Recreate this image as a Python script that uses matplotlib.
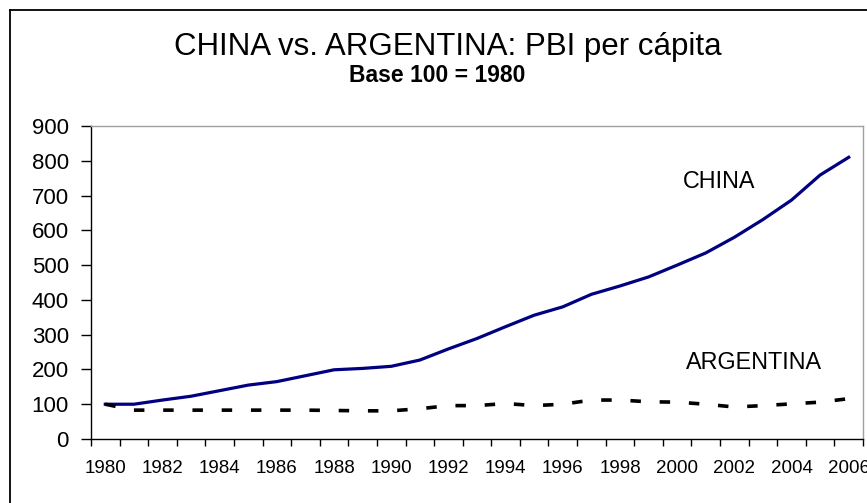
import matplotlib
matplotlib.use("Agg")
import matplotlib.pyplot as plt
import numpy as np
from matplotlib.lines import Line2D

plt.rcParams['font.family'] = ['Liberation Sans', 'DejaVu Sans']

years = list(range(1980, 2007))
china = [100, 100, 112, 123, 139, 155, 165, 182, 199, 203, 209, 227, 259,
         289, 323, 356, 380, 416, 440, 466, 500, 535, 580, 631, 687, 759, 810]
argentina = [100, 83, 83, 83, 83, 83, 83, 83, 82, 81, 81, 87, 96,
             96, 102, 96, 100, 112, 112, 107, 106, 100, 92, 96, 101, 106, 116]

fig = plt.figure(figsize=(8.67, 5.03), dpi=100)
ax = fig.add_axes([91/867, 64/503, 772/867, 313/503])

x = np.arange(len(years))
ax.plot(x, china, color='#000080', lw=2.3, solid_joinstyle='round')
ax.plot(x, argentina, color='black', lw=2.6, dashes=(2.9, 5.2), dash_capstyle='butt')

ax.set_xlim(-0.5, len(years) - 0.5)
ax.set_ylim(0, 900)
ax.set_yticks(range(0, 901, 100))
ax.set_xticks(x[::2])
ax.set_xticklabels([str(y) for y in years[::2]])
ax.set_xticks(np.arange(-0.5, len(years), 1), minor=True)
ax.tick_params(axis='x', which='major', length=0, labelsize=13.5, pad=15)
ax.tick_params(axis='x', which='minor', length=5, width=1, direction='out')
ax.tick_params(axis='y', length=7, width=1, direction='out', labelsize=16, pad=9)

for s in ['top', 'right']:
    ax.spines[s].set_color('#a0a0a0')
for s in ['left', 'bottom']:
    ax.spines[s].set_color('black')
for s in ax.spines.values():
    s.set_linewidth(1)

ax.text(20.2, 739, 'CHINA', fontsize=16.8, ha='left', va='center')
ax.text(20.3, 221, 'ARGENTINA', fontsize=16.8, ha='left', va='center')

fig.text(448/867, 1 - 47/503, 'CHINA vs. ARGENTINA: PBI per cápita',
         fontsize=22.5, ha='center', va='center')
fig.text(437/867, 1 - 75/503, 'Base 100 = 1980', fontsize=16.5,
         fontweight='bold', ha='center', va='center')

# outer chart border (cropped on right and bottom)
fig.add_artist(Line2D([10/867, 10/867], [0, 1 - 10/503], color='black', lw=1.3))
fig.add_artist(Line2D([10/867, 1], [1 - 10/503, 1 - 10/503], color='black', lw=1.3))

fig.savefig('out.png', dpi=100)
